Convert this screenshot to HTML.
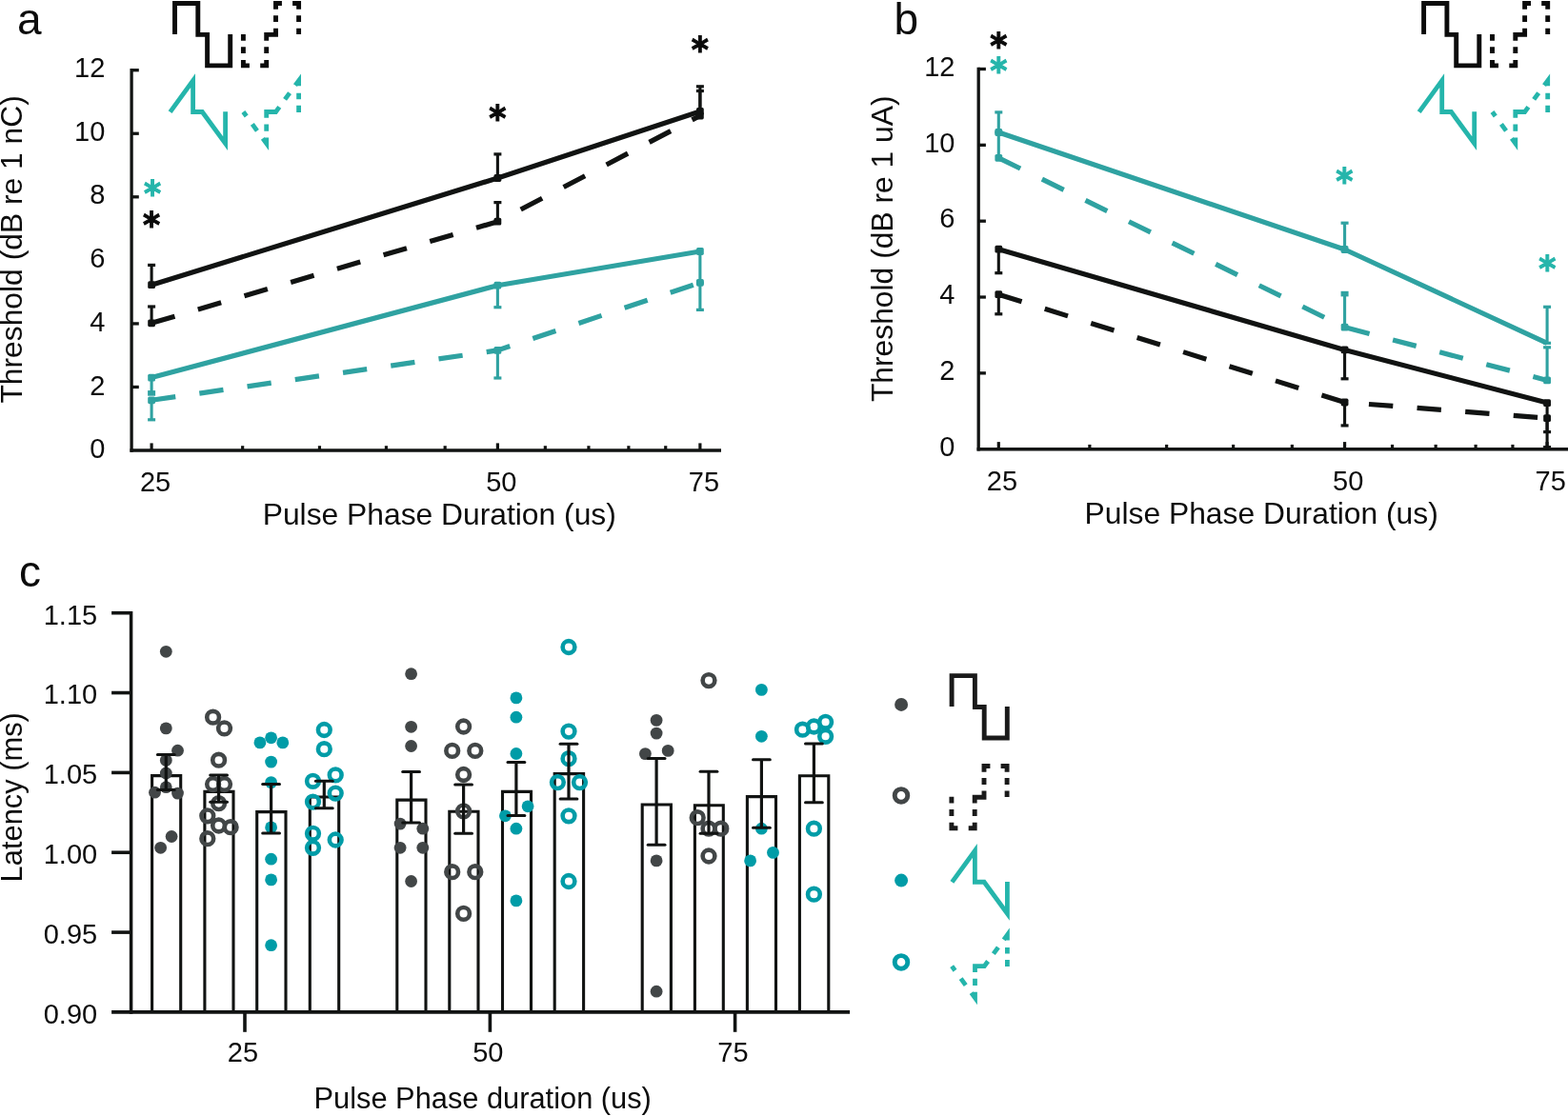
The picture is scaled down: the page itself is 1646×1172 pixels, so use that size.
<!DOCTYPE html>
<html lang="en"><head><meta charset="utf-8"><title>Figure</title>
<style>html,body{margin:0;padding:0;background:#fff}svg{display:block}</style></head><body>
<svg width="1646" height="1172" viewBox="0 0 1646 1172">
<rect width="1646" height="1172" fill="#fff"/>
<g id="panel-a">
<text x="17.9" y="36.4" font-family="'Liberation Sans', Arial, Helvetica, sans-serif" font-size="46" text-anchor="start" fill="#0c0c0c">a</text>
<line x1="138.1" y1="72.05" x2="138.1" y2="474.75" stroke="#111312" stroke-width="3.3" stroke-linecap="butt"/>
<line x1="136.45" y1="473" x2="757" y2="473" stroke="#111312" stroke-width="3.5" stroke-linecap="butt"/>
<line x1="138.1" y1="73.7" x2="145.8" y2="73.7" stroke="#111312" stroke-width="3.3" stroke-linecap="butt"/>
<line x1="138.1" y1="140.25" x2="145.8" y2="140.25" stroke="#111312" stroke-width="3.3" stroke-linecap="butt"/>
<line x1="138.1" y1="206.8" x2="145.8" y2="206.8" stroke="#111312" stroke-width="3.3" stroke-linecap="butt"/>
<line x1="138.1" y1="339.9" x2="145.8" y2="339.9" stroke="#111312" stroke-width="3.3" stroke-linecap="butt"/>
<line x1="138.1" y1="406.45" x2="145.8" y2="406.45" stroke="#111312" stroke-width="3.3" stroke-linecap="butt"/>
<line x1="159.1" y1="473" x2="159.1" y2="465.4" stroke="#111312" stroke-width="3.2" stroke-linecap="butt"/>
<line x1="522.38" y1="473" x2="522.38" y2="465.4" stroke="#111312" stroke-width="3.2" stroke-linecap="butt"/>
<line x1="734.89" y1="473" x2="734.89" y2="465.4" stroke="#111312" stroke-width="3.2" stroke-linecap="butt"/>
<line x1="254.66" y1="473" x2="254.66" y2="468.2" stroke="#111312" stroke-width="3.2" stroke-linecap="butt"/>
<line x1="335.45" y1="473" x2="335.45" y2="468.2" stroke="#111312" stroke-width="3.2" stroke-linecap="butt"/>
<line x1="405.43" y1="473" x2="405.43" y2="468.2" stroke="#111312" stroke-width="3.2" stroke-linecap="butt"/>
<line x1="467.16" y1="473" x2="467.16" y2="468.2" stroke="#111312" stroke-width="3.2" stroke-linecap="butt"/>
<line x1="572.34" y1="473" x2="572.34" y2="468.2" stroke="#111312" stroke-width="3.2" stroke-linecap="butt"/>
<line x1="617.94" y1="473" x2="617.94" y2="468.2" stroke="#111312" stroke-width="3.2" stroke-linecap="butt"/>
<line x1="659.89" y1="473" x2="659.89" y2="468.2" stroke="#111312" stroke-width="3.2" stroke-linecap="butt"/>
<line x1="698.73" y1="473" x2="698.73" y2="468.2" stroke="#111312" stroke-width="3.2" stroke-linecap="butt"/>
<text x="110.3" y="80.9" font-family="'Liberation Sans', Arial, Helvetica, sans-serif" font-size="29" text-anchor="end" fill="#0c0c0c">12</text>
<text x="110.3" y="147.62" font-family="'Liberation Sans', Arial, Helvetica, sans-serif" font-size="29" text-anchor="end" fill="#0c0c0c">10</text>
<text x="110.3" y="214.34" font-family="'Liberation Sans', Arial, Helvetica, sans-serif" font-size="29" text-anchor="end" fill="#0c0c0c">8</text>
<text x="110.3" y="281.06" font-family="'Liberation Sans', Arial, Helvetica, sans-serif" font-size="29" text-anchor="end" fill="#0c0c0c">6</text>
<text x="110.3" y="347.78" font-family="'Liberation Sans', Arial, Helvetica, sans-serif" font-size="29" text-anchor="end" fill="#0c0c0c">4</text>
<text x="110.3" y="414.5" font-family="'Liberation Sans', Arial, Helvetica, sans-serif" font-size="29" text-anchor="end" fill="#0c0c0c">2</text>
<text x="110.3" y="481.22" font-family="'Liberation Sans', Arial, Helvetica, sans-serif" font-size="29" text-anchor="end" fill="#0c0c0c">0</text>
<text x="163.1" y="515.7" font-family="'Liberation Sans', Arial, Helvetica, sans-serif" font-size="29" text-anchor="middle" fill="#0c0c0c">25</text>
<text x="526.38" y="515.7" font-family="'Liberation Sans', Arial, Helvetica, sans-serif" font-size="29" text-anchor="middle" fill="#0c0c0c">50</text>
<text x="738.89" y="515.7" font-family="'Liberation Sans', Arial, Helvetica, sans-serif" font-size="29" text-anchor="middle" fill="#0c0c0c">75</text>
<text x="275.7" y="550.8" font-family="'Liberation Sans', Arial, Helvetica, sans-serif" font-size="31.8" text-anchor="start" fill="#0c0c0c">Pulse Phase Duration (us)</text>
<text transform="translate(23.2 423.6) rotate(-90)" font-family="'Liberation Sans', Arial, Helvetica, sans-serif" font-size="31.8" text-anchor="start" fill="#0c0c0c">Threshold (dB re 1 nC)</text>
<path d="M183.5,35.9 V3.55 H207.8 V36.4 H217.6 V68.9 H241.7 V35.9" fill="none" stroke="#0b0b0b" stroke-width="4.9" stroke-linejoin="miter"/>
<path d="M255.4,35.9 V68.9 H279.7 V36.4 H289.5 V3.55 H313.6 V36.1" fill="none" stroke="#0b0b0b" stroke-width="4.9" stroke-linejoin="miter" stroke-dasharray="6.75 6.55 6.8 6.9 12.5 11.3 12.5 6.9 6.8 6.55 22.75 6.7 6.8 6.4 12.65 11.2 12.75 6.4 6.8 6.7 6.4 50"/>
<path d="M178.6,117.6 L202.6,84.7 V117.5 H212.3 L236.6,150.7 V117.2" fill="none" stroke="#25b5ab" stroke-width="4.8" stroke-linejoin="miter" stroke-miterlimit="10"/>
<path d="M255.4,117.5 L279.7,150.7 L279.7,117.5 L289.5,117.5 L313.6,84.7 L313.6,117.9" fill="none" stroke="#25b5ab" stroke-width="4.8" stroke-linejoin="miter" stroke-miterlimit="10" stroke-dasharray="5.6 10.4 8.6 10 12.64 6.8 7.2 6.8 22.5 9.8 8.4 9.9 11.8 7.4 6.6 6.5 7.1 100"/>
<path d="M159.1,420.3 L522.38,367.9 L734.89,296.8" fill="none" stroke="#2fa2a1" stroke-width="5.2" stroke-linejoin="round" stroke-dasharray="25.4 25.35"/>
<path d="M159.1,396.6 L522.38,299.7 L734.89,264" fill="none" stroke="#2fa2a1" stroke-width="5.2" stroke-linejoin="round"/>
<path d="M159.1,339.3 L522.38,232.7 L734.89,121.5" fill="none" stroke="#111312" stroke-width="5.2" stroke-linejoin="round" stroke-dasharray="25.4 25.35"/>
<path d="M159.1,299.2 L522.38,187 L734.89,117" fill="none" stroke="#111312" stroke-width="5.2" stroke-linejoin="round"/>
<line x1="159.1" y1="396.6" x2="159.1" y2="412.9" stroke="#2fa2a1" stroke-width="3.1" stroke-linecap="butt"/>
<rect x="155.1" y="410.1" width="8" height="5.6" fill="#2fa2a1"/>
<line x1="159.1" y1="420.3" x2="159.1" y2="440.8" stroke="#2fa2a1" stroke-width="3.1" stroke-linecap="butt"/>
<rect x="155.1" y="439.2" width="8" height="3.2" fill="#2fa2a1"/>
<line x1="159.1" y1="299.2" x2="159.1" y2="278.4" stroke="#111312" stroke-width="3.1" stroke-linecap="butt"/>
<rect x="155.1" y="276.8" width="8" height="3.2" fill="#111312"/>
<line x1="159.1" y1="339.3" x2="159.1" y2="322" stroke="#111312" stroke-width="3.1" stroke-linecap="butt"/>
<rect x="155.1" y="320.4" width="8" height="3.2" fill="#111312"/>
<rect x="155.2" y="392.7" width="7.8" height="7.8" rx="1.6" fill="#2fa2a1"/>
<rect x="155.2" y="416.4" width="7.8" height="7.8" rx="1.6" fill="#2fa2a1"/>
<rect x="155.2" y="295.3" width="7.8" height="7.8" rx="1.6" fill="#111312"/>
<rect x="155.2" y="335.4" width="7.8" height="7.8" rx="1.6" fill="#111312"/>
<line x1="522.38" y1="299.7" x2="522.38" y2="322.7" stroke="#2fa2a1" stroke-width="3.1" stroke-linecap="butt"/>
<rect x="518.38" y="321.1" width="8" height="3.2" fill="#2fa2a1"/>
<line x1="522.38" y1="367.9" x2="522.38" y2="397" stroke="#2fa2a1" stroke-width="3.1" stroke-linecap="butt"/>
<rect x="518.38" y="395.4" width="8" height="3.2" fill="#2fa2a1"/>
<line x1="522.38" y1="187" x2="522.38" y2="161.9" stroke="#111312" stroke-width="3.1" stroke-linecap="butt"/>
<rect x="518.38" y="160.3" width="8" height="3.2" fill="#111312"/>
<line x1="522.38" y1="232.7" x2="522.38" y2="212.6" stroke="#111312" stroke-width="3.1" stroke-linecap="butt"/>
<rect x="518.38" y="211" width="8" height="3.2" fill="#111312"/>
<rect x="518.48" y="295.8" width="7.8" height="7.8" rx="1.6" fill="#2fa2a1"/>
<rect x="518.48" y="364" width="7.8" height="7.8" rx="1.6" fill="#2fa2a1"/>
<rect x="518.48" y="183.1" width="7.8" height="7.8" rx="1.6" fill="#111312"/>
<rect x="518.48" y="228.8" width="7.8" height="7.8" rx="1.6" fill="#111312"/>
<line x1="734.89" y1="264" x2="734.89" y2="297" stroke="#2fa2a1" stroke-width="3.1" stroke-linecap="butt"/>
<rect x="730.89" y="295.4" width="8" height="3.2" fill="#2fa2a1"/>
<line x1="734.89" y1="296.8" x2="734.89" y2="325.4" stroke="#2fa2a1" stroke-width="3.1" stroke-linecap="butt"/>
<rect x="730.89" y="323.8" width="8" height="3.2" fill="#2fa2a1"/>
<line x1="734.89" y1="117" x2="734.89" y2="90.8" stroke="#111312" stroke-width="3.1" stroke-linecap="butt"/>
<rect x="730.89" y="89.2" width="8" height="3.2" fill="#111312"/>
<line x1="734.89" y1="121.5" x2="734.89" y2="95.5" stroke="#111312" stroke-width="3.1" stroke-linecap="butt"/>
<rect x="730.89" y="93.9" width="8" height="3.2" fill="#111312"/>
<rect x="730.99" y="260.1" width="7.8" height="7.8" rx="1.6" fill="#2fa2a1"/>
<rect x="730.99" y="292.9" width="7.8" height="7.8" rx="1.6" fill="#2fa2a1"/>
<rect x="730.99" y="113.1" width="7.8" height="7.8" rx="1.6" fill="#111312"/>
<rect x="730.99" y="117.6" width="7.8" height="7.8" rx="1.6" fill="#111312"/>
<text transform="translate(160 197.5) scale(0.965 1.05)" x="0" y="17.45" font-family="'DejaVu Sans', 'Liberation Sans', sans-serif" font-size="36" font-weight="bold" text-anchor="middle" fill="#25b5ab" stroke="#25b5ab" stroke-width="1" stroke-linejoin="miter">*</text>
<text transform="translate(159.1 230.6) scale(0.965 1.05)" x="0" y="17.45" font-family="'DejaVu Sans', 'Liberation Sans', sans-serif" font-size="36" font-weight="bold" text-anchor="middle" fill="#0a0a0a" stroke="#0a0a0a" stroke-width="1" stroke-linejoin="miter">*</text>
<text transform="translate(522.4 118.2) scale(0.965 1.05)" x="0" y="17.45" font-family="'DejaVu Sans', 'Liberation Sans', sans-serif" font-size="36" font-weight="bold" text-anchor="middle" fill="#0a0a0a" stroke="#0a0a0a" stroke-width="1" stroke-linejoin="miter">*</text>
<text transform="translate(734.9 46.9) scale(0.965 1.05)" x="0" y="17.45" font-family="'DejaVu Sans', 'Liberation Sans', sans-serif" font-size="36" font-weight="bold" text-anchor="middle" fill="#0a0a0a" stroke="#0a0a0a" stroke-width="1" stroke-linejoin="miter">*</text>
</g>
<g id="panel-b">
<text x="938.5" y="36.4" font-family="'Liberation Sans', Arial, Helvetica, sans-serif" font-size="46" text-anchor="start" fill="#0c0c0c">b</text>
<line x1="1027.2" y1="70.85" x2="1027.2" y2="473.45" stroke="#111312" stroke-width="3.3" stroke-linecap="butt"/>
<line x1="1025.55" y1="471.7" x2="1646" y2="471.7" stroke="#111312" stroke-width="3.5" stroke-linecap="butt"/>
<line x1="1027.2" y1="72.5" x2="1034.9" y2="72.5" stroke="#111312" stroke-width="3.3" stroke-linecap="butt"/>
<line x1="1027.2" y1="152.34" x2="1034.9" y2="152.34" stroke="#111312" stroke-width="3.3" stroke-linecap="butt"/>
<line x1="1027.2" y1="232.18" x2="1034.9" y2="232.18" stroke="#111312" stroke-width="3.3" stroke-linecap="butt"/>
<line x1="1027.2" y1="312.02" x2="1034.9" y2="312.02" stroke="#111312" stroke-width="3.3" stroke-linecap="butt"/>
<line x1="1027.2" y1="391.86" x2="1034.9" y2="391.86" stroke="#111312" stroke-width="3.3" stroke-linecap="butt"/>
<line x1="1048.3" y1="471.7" x2="1048.3" y2="464.1" stroke="#111312" stroke-width="3.2" stroke-linecap="butt"/>
<line x1="1411.58" y1="471.7" x2="1411.58" y2="464.1" stroke="#111312" stroke-width="3.2" stroke-linecap="butt"/>
<line x1="1624.09" y1="471.7" x2="1624.09" y2="464.1" stroke="#111312" stroke-width="3.2" stroke-linecap="butt"/>
<line x1="1143.86" y1="471.7" x2="1143.86" y2="466.9" stroke="#111312" stroke-width="3.2" stroke-linecap="butt"/>
<line x1="1224.65" y1="471.7" x2="1224.65" y2="466.9" stroke="#111312" stroke-width="3.2" stroke-linecap="butt"/>
<line x1="1294.63" y1="471.7" x2="1294.63" y2="466.9" stroke="#111312" stroke-width="3.2" stroke-linecap="butt"/>
<line x1="1356.36" y1="471.7" x2="1356.36" y2="466.9" stroke="#111312" stroke-width="3.2" stroke-linecap="butt"/>
<line x1="1461.54" y1="471.7" x2="1461.54" y2="466.9" stroke="#111312" stroke-width="3.2" stroke-linecap="butt"/>
<line x1="1507.14" y1="471.7" x2="1507.14" y2="466.9" stroke="#111312" stroke-width="3.2" stroke-linecap="butt"/>
<line x1="1549.09" y1="471.7" x2="1549.09" y2="466.9" stroke="#111312" stroke-width="3.2" stroke-linecap="butt"/>
<line x1="1587.93" y1="471.7" x2="1587.93" y2="466.9" stroke="#111312" stroke-width="3.2" stroke-linecap="butt"/>
<text x="1002.4" y="79.8" font-family="'Liberation Sans', Arial, Helvetica, sans-serif" font-size="29" text-anchor="end" fill="#0c0c0c">12</text>
<text x="1002.4" y="159.64" font-family="'Liberation Sans', Arial, Helvetica, sans-serif" font-size="29" text-anchor="end" fill="#0c0c0c">10</text>
<text x="1002.4" y="239.48" font-family="'Liberation Sans', Arial, Helvetica, sans-serif" font-size="29" text-anchor="end" fill="#0c0c0c">6</text>
<text x="1002.4" y="319.32" font-family="'Liberation Sans', Arial, Helvetica, sans-serif" font-size="29" text-anchor="end" fill="#0c0c0c">4</text>
<text x="1002.4" y="399.16" font-family="'Liberation Sans', Arial, Helvetica, sans-serif" font-size="29" text-anchor="end" fill="#0c0c0c">2</text>
<text x="1002.4" y="479" font-family="'Liberation Sans', Arial, Helvetica, sans-serif" font-size="29" text-anchor="end" fill="#0c0c0c">0</text>
<text x="1051.9" y="515.1" font-family="'Liberation Sans', Arial, Helvetica, sans-serif" font-size="29" text-anchor="middle" fill="#0c0c0c">25</text>
<text x="1415.18" y="515.1" font-family="'Liberation Sans', Arial, Helvetica, sans-serif" font-size="29" text-anchor="middle" fill="#0c0c0c">50</text>
<text x="1627.69" y="515.1" font-family="'Liberation Sans', Arial, Helvetica, sans-serif" font-size="29" text-anchor="middle" fill="#0c0c0c">75</text>
<text x="1138.6" y="550" font-family="'Liberation Sans', Arial, Helvetica, sans-serif" font-size="31.8" text-anchor="start" fill="#0c0c0c">Pulse Phase Duration (us)</text>
<text transform="translate(937.4 422.1) rotate(-90)" font-family="'Liberation Sans', Arial, Helvetica, sans-serif" font-size="31.8" text-anchor="start" fill="#0c0c0c">Threshold (dB re 1 uA)</text>
<path d="M1494.6,35.9 V3.55 H1518.9 V36.4 H1528.7 V68.9 H1552.8 V35.9" fill="none" stroke="#0b0b0b" stroke-width="4.9" stroke-linejoin="miter"/>
<path d="M1566.5,35.9 V68.9 H1590.8 V36.4 H1600.6 V3.55 H1624.7 V36.1" fill="none" stroke="#0b0b0b" stroke-width="4.9" stroke-linejoin="miter" stroke-dasharray="6.75 6.55 6.8 6.9 12.5 11.3 12.5 6.9 6.8 6.55 22.75 6.7 6.8 6.4 12.65 11.2 12.75 6.4 6.8 6.7 6.4 50"/>
<path d="M1489.7,117.6 L1513.7,84.7 V117.5 H1523.4 L1547.7,150.7 V117.2" fill="none" stroke="#25b5ab" stroke-width="4.8" stroke-linejoin="miter" stroke-miterlimit="10"/>
<path d="M1566.5,117.5 L1590.8,150.7 L1590.8,117.5 L1600.6,117.5 L1624.7,84.7 L1624.7,117.9" fill="none" stroke="#25b5ab" stroke-width="4.8" stroke-linejoin="miter" stroke-miterlimit="10" stroke-dasharray="5.6 10.4 8.6 10 12.64 6.8 7.2 6.8 22.5 9.8 8.4 9.9 11.8 7.4 6.6 6.5 7.1 100"/>
<path d="M1048.3,165.8 L1411.58,343.7 L1624.09,399.4" fill="none" stroke="#2fa2a1" stroke-width="5.2" stroke-linejoin="round" stroke-dasharray="25.4 25.35"/>
<path d="M1048.3,139 L1411.58,262 L1624.09,360.3" fill="none" stroke="#2fa2a1" stroke-width="5.2" stroke-linejoin="round"/>
<path d="M1048.3,309.2 L1411.58,422.5 L1624.09,439.1" fill="none" stroke="#111312" stroke-width="5.2" stroke-linejoin="round" stroke-dasharray="25.4 25.35"/>
<path d="M1048.3,261.7 L1411.58,367.4 L1624.09,423.1" fill="none" stroke="#111312" stroke-width="5.2" stroke-linejoin="round"/>
<line x1="1048.3" y1="139" x2="1048.3" y2="117.9" stroke="#2fa2a1" stroke-width="3.1" stroke-linecap="butt"/>
<rect x="1044.3" y="116.3" width="8" height="3.2" fill="#2fa2a1"/>
<line x1="1048.3" y1="165.8" x2="1048.3" y2="139" stroke="#2fa2a1" stroke-width="3.1" stroke-linecap="butt"/>
<rect x="1044.3" y="137.4" width="8" height="3.2" fill="#2fa2a1"/>
<line x1="1048.3" y1="261.7" x2="1048.3" y2="286.7" stroke="#111312" stroke-width="3.1" stroke-linecap="butt"/>
<rect x="1044.3" y="285.1" width="8" height="3.2" fill="#111312"/>
<line x1="1048.3" y1="309.2" x2="1048.3" y2="329.8" stroke="#111312" stroke-width="3.1" stroke-linecap="butt"/>
<rect x="1044.3" y="328.2" width="8" height="3.2" fill="#111312"/>
<rect x="1044.4" y="135.1" width="7.8" height="7.8" rx="1.6" fill="#2fa2a1"/>
<rect x="1044.4" y="161.9" width="7.8" height="7.8" rx="1.6" fill="#2fa2a1"/>
<rect x="1044.4" y="257.8" width="7.8" height="7.8" rx="1.6" fill="#111312"/>
<rect x="1044.4" y="305.3" width="7.8" height="7.8" rx="1.6" fill="#111312"/>
<line x1="1411.58" y1="262" x2="1411.58" y2="234.2" stroke="#2fa2a1" stroke-width="3.1" stroke-linecap="butt"/>
<rect x="1407.58" y="232.6" width="8" height="3.2" fill="#2fa2a1"/>
<line x1="1411.58" y1="343.7" x2="1411.58" y2="308.6" stroke="#2fa2a1" stroke-width="3.1" stroke-linecap="butt"/>
<rect x="1407.58" y="305.8" width="8" height="5.6" fill="#2fa2a1"/>
<line x1="1411.58" y1="367.4" x2="1411.58" y2="397.8" stroke="#111312" stroke-width="3.1" stroke-linecap="butt"/>
<rect x="1407.58" y="396.2" width="8" height="3.2" fill="#111312"/>
<line x1="1411.58" y1="422.5" x2="1411.58" y2="446.9" stroke="#111312" stroke-width="3.1" stroke-linecap="butt"/>
<rect x="1407.58" y="445.3" width="8" height="3.2" fill="#111312"/>
<rect x="1407.68" y="258.1" width="7.8" height="7.8" rx="1.6" fill="#2fa2a1"/>
<rect x="1407.68" y="339.8" width="7.8" height="7.8" rx="1.6" fill="#2fa2a1"/>
<rect x="1407.68" y="363.5" width="7.8" height="7.8" rx="1.6" fill="#111312"/>
<rect x="1407.68" y="418.6" width="7.8" height="7.8" rx="1.6" fill="#111312"/>
<line x1="1624.09" y1="360.3" x2="1624.09" y2="322.3" stroke="#2fa2a1" stroke-width="3.1" stroke-linecap="butt"/>
<rect x="1620.09" y="320.7" width="8" height="3.2" fill="#2fa2a1"/>
<line x1="1624.09" y1="399.4" x2="1624.09" y2="364.8" stroke="#2fa2a1" stroke-width="3.1" stroke-linecap="butt"/>
<rect x="1620.09" y="363.2" width="8" height="3.2" fill="#2fa2a1"/>
<line x1="1624.09" y1="423.1" x2="1624.09" y2="453.6" stroke="#111312" stroke-width="3.1" stroke-linecap="butt"/>
<rect x="1620.09" y="452" width="8" height="3.2" fill="#111312"/>
<line x1="1624.09" y1="439.1" x2="1624.09" y2="469.6" stroke="#111312" stroke-width="3.1" stroke-linecap="butt"/>
<rect x="1620.09" y="468" width="8" height="3.2" fill="#111312"/>
<rect x="1620.09" y="358.7" width="8" height="3.2" fill="#2fa2a1"/>
<rect x="1620.19" y="395.5" width="7.8" height="7.8" rx="1.6" fill="#2fa2a1"/>
<rect x="1620.19" y="419.2" width="7.8" height="7.8" rx="1.6" fill="#111312"/>
<rect x="1620.19" y="435.2" width="7.8" height="7.8" rx="1.6" fill="#111312"/>
<text transform="translate(1048.3 43) scale(0.965 1.05)" x="0" y="17.45" font-family="'DejaVu Sans', 'Liberation Sans', sans-serif" font-size="36" font-weight="bold" text-anchor="middle" fill="#0a0a0a" stroke="#0a0a0a" stroke-width="1" stroke-linejoin="miter">*</text>
<text transform="translate(1048.3 68.6) scale(0.965 1.05)" x="0" y="17.45" font-family="'DejaVu Sans', 'Liberation Sans', sans-serif" font-size="36" font-weight="bold" text-anchor="middle" fill="#25b5ab" stroke="#25b5ab" stroke-width="1" stroke-linejoin="miter">*</text>
<text transform="translate(1411.3 184.8) scale(0.965 1.05)" x="0" y="17.45" font-family="'DejaVu Sans', 'Liberation Sans', sans-serif" font-size="36" font-weight="bold" text-anchor="middle" fill="#25b5ab" stroke="#25b5ab" stroke-width="1" stroke-linejoin="miter">*</text>
<text transform="translate(1624.4 277.1) scale(0.965 1.05)" x="0" y="17.45" font-family="'DejaVu Sans', 'Liberation Sans', sans-serif" font-size="36" font-weight="bold" text-anchor="middle" fill="#25b5ab" stroke="#25b5ab" stroke-width="1" stroke-linejoin="miter">*</text>
</g>
<g id="panel-c">
<text x="20.1" y="615.6" font-family="'Liberation Sans', Arial, Helvetica, sans-serif" font-size="46" text-anchor="start" fill="#0c0c0c">c</text>
<path d="M159.6,1062.9 V814.6 H189.7 V1062.9" fill="none" stroke="#111312" stroke-width="3.1"/>
<path d="M214.9,1062.9 V831.4 H245 V1062.9" fill="none" stroke="#111312" stroke-width="3.1"/>
<path d="M269.7,1062.9 V852.6 H300 V1062.9" fill="none" stroke="#111312" stroke-width="3.1"/>
<path d="M325.3,1062.9 V837 H355.7 V1062.9" fill="none" stroke="#111312" stroke-width="3.1"/>
<path d="M416.8,1062.9 V840.1 H447 V1062.9" fill="none" stroke="#111312" stroke-width="3.1"/>
<path d="M471.8,1062.9 V852.3 H502 V1062.9" fill="none" stroke="#111312" stroke-width="3.1"/>
<path d="M527.5,1062.9 V831.4 H557.5 V1062.9" fill="none" stroke="#111312" stroke-width="3.1"/>
<path d="M582.2,1062.9 V812.6 H612.6 V1062.9" fill="none" stroke="#111312" stroke-width="3.1"/>
<path d="M674.2,1062.9 V845 H704.4 V1062.9" fill="none" stroke="#111312" stroke-width="3.1"/>
<path d="M729.4,1062.9 V845.7 H759.3 V1062.9" fill="none" stroke="#111312" stroke-width="3.1"/>
<path d="M784.4,1062.9 V836.6 H814.5 V1062.9" fill="none" stroke="#111312" stroke-width="3.1"/>
<path d="M839.4,1062.9 V814.8 H869.8 V1062.9" fill="none" stroke="#111312" stroke-width="3.1"/>
<circle cx="174.3" cy="684.3" r="6.4" fill="#424647"/>
<circle cx="174.3" cy="764.9" r="6.4" fill="#424647"/>
<circle cx="186.5" cy="788.2" r="6.4" fill="#424647"/>
<circle cx="174.3" cy="798.4" r="6.4" fill="#424647"/>
<circle cx="174.3" cy="812" r="6.4" fill="#424647"/>
<circle cx="174.3" cy="826.7" r="6.4" fill="#424647"/>
<circle cx="162.5" cy="832.2" r="6.4" fill="#424647"/>
<circle cx="186.5" cy="833.1" r="6.4" fill="#424647"/>
<circle cx="180.1" cy="878.5" r="6.4" fill="#424647"/>
<circle cx="168.6" cy="890.3" r="6.4" fill="#424647"/>
<circle cx="223.6" cy="753.2" r="6.35" fill="none" stroke="#424647" stroke-width="4.6"/>
<circle cx="235.5" cy="764.9" r="6.35" fill="none" stroke="#424647" stroke-width="4.6"/>
<circle cx="229.6" cy="798.2" r="6.35" fill="none" stroke="#424647" stroke-width="4.6"/>
<circle cx="223.6" cy="823.5" r="6.35" fill="none" stroke="#424647" stroke-width="4.6"/>
<circle cx="235.5" cy="823.5" r="6.35" fill="none" stroke="#424647" stroke-width="4.6"/>
<circle cx="229.6" cy="843.6" r="6.35" fill="none" stroke="#424647" stroke-width="4.6"/>
<circle cx="217.8" cy="856.8" r="6.35" fill="none" stroke="#424647" stroke-width="4.6"/>
<circle cx="229.6" cy="867" r="6.35" fill="none" stroke="#424647" stroke-width="4.6"/>
<circle cx="242.1" cy="868.7" r="6.35" fill="none" stroke="#424647" stroke-width="4.6"/>
<circle cx="217.8" cy="880.7" r="6.35" fill="none" stroke="#424647" stroke-width="4.6"/>
<circle cx="284.6" cy="774.8" r="6.4" fill="#009ca7"/>
<circle cx="272.9" cy="779.9" r="6.4" fill="#009ca7"/>
<circle cx="296.8" cy="779.9" r="6.4" fill="#009ca7"/>
<circle cx="284.6" cy="800.1" r="6.4" fill="#009ca7"/>
<circle cx="284.6" cy="821.6" r="6.4" fill="#009ca7"/>
<circle cx="284.6" cy="868.9" r="6.4" fill="#009ca7"/>
<circle cx="284.6" cy="902.2" r="6.4" fill="#009ca7"/>
<circle cx="284.6" cy="923.9" r="6.4" fill="#009ca7"/>
<circle cx="284.6" cy="992.7" r="6.4" fill="#009ca7"/>
<circle cx="340.3" cy="766.5" r="6.35" fill="none" stroke="#009ca7" stroke-width="4.6"/>
<circle cx="340.3" cy="786.7" r="6.35" fill="none" stroke="#009ca7" stroke-width="4.6"/>
<circle cx="352.2" cy="813.9" r="6.35" fill="none" stroke="#009ca7" stroke-width="4.6"/>
<circle cx="328.5" cy="820.3" r="6.35" fill="none" stroke="#009ca7" stroke-width="4.6"/>
<circle cx="352.2" cy="833.1" r="6.35" fill="none" stroke="#009ca7" stroke-width="4.6"/>
<circle cx="328.5" cy="842.1" r="6.35" fill="none" stroke="#009ca7" stroke-width="4.6"/>
<circle cx="328.5" cy="875.3" r="6.35" fill="none" stroke="#009ca7" stroke-width="4.6"/>
<circle cx="352.2" cy="882" r="6.35" fill="none" stroke="#009ca7" stroke-width="4.6"/>
<circle cx="328.5" cy="890.3" r="6.35" fill="none" stroke="#009ca7" stroke-width="4.6"/>
<circle cx="431.6" cy="707.7" r="6.4" fill="#424647"/>
<circle cx="431.6" cy="763.3" r="6.4" fill="#424647"/>
<circle cx="431.6" cy="783.5" r="6.4" fill="#424647"/>
<circle cx="420.1" cy="865.1" r="6.4" fill="#424647"/>
<circle cx="443.8" cy="870.2" r="6.4" fill="#424647"/>
<circle cx="420.1" cy="890.3" r="6.4" fill="#424647"/>
<circle cx="443.8" cy="890.3" r="6.4" fill="#424647"/>
<circle cx="431.6" cy="925.5" r="6.4" fill="#424647"/>
<circle cx="486.6" cy="763" r="6.35" fill="none" stroke="#424647" stroke-width="4.6"/>
<circle cx="474.7" cy="788.4" r="6.35" fill="none" stroke="#424647" stroke-width="4.6"/>
<circle cx="498.8" cy="788.4" r="6.35" fill="none" stroke="#424647" stroke-width="4.6"/>
<circle cx="486.6" cy="813.5" r="6.35" fill="none" stroke="#424647" stroke-width="4.6"/>
<circle cx="486.6" cy="851.9" r="6.35" fill="none" stroke="#424647" stroke-width="4.6"/>
<circle cx="474.7" cy="915.7" r="6.35" fill="none" stroke="#424647" stroke-width="4.6"/>
<circle cx="498.8" cy="915.7" r="6.35" fill="none" stroke="#424647" stroke-width="4.6"/>
<circle cx="486.6" cy="959.4" r="6.35" fill="none" stroke="#424647" stroke-width="4.6"/>
<circle cx="541.9" cy="732.9" r="6.4" fill="#009ca7"/>
<circle cx="541.9" cy="753.2" r="6.4" fill="#009ca7"/>
<circle cx="541.9" cy="791.5" r="6.4" fill="#009ca7"/>
<circle cx="554.1" cy="846.8" r="6.4" fill="#009ca7"/>
<circle cx="530.4" cy="856.8" r="6.4" fill="#009ca7"/>
<circle cx="541.9" cy="870.2" r="6.4" fill="#009ca7"/>
<circle cx="541.9" cy="945.9" r="6.4" fill="#009ca7"/>
<circle cx="597" cy="679.5" r="6.35" fill="none" stroke="#009ca7" stroke-width="4.6"/>
<circle cx="597" cy="768.1" r="6.35" fill="none" stroke="#009ca7" stroke-width="4.6"/>
<circle cx="597" cy="796.7" r="6.35" fill="none" stroke="#009ca7" stroke-width="4.6"/>
<circle cx="585.4" cy="821.6" r="6.35" fill="none" stroke="#009ca7" stroke-width="4.6"/>
<circle cx="608.5" cy="821.6" r="6.35" fill="none" stroke="#009ca7" stroke-width="4.6"/>
<circle cx="597" cy="856.8" r="6.35" fill="none" stroke="#009ca7" stroke-width="4.6"/>
<circle cx="597" cy="925.5" r="6.35" fill="none" stroke="#009ca7" stroke-width="4.6"/>
<circle cx="689.1" cy="756.4" r="6.4" fill="#424647"/>
<circle cx="689.1" cy="770.1" r="6.4" fill="#424647"/>
<circle cx="701.2" cy="788.4" r="6.4" fill="#424647"/>
<circle cx="677.4" cy="791.6" r="6.4" fill="#424647"/>
<circle cx="689.1" cy="903.9" r="6.4" fill="#424647"/>
<circle cx="689.1" cy="1041.2" r="6.4" fill="#424647"/>
<circle cx="744" cy="714.6" r="6.35" fill="none" stroke="#424647" stroke-width="4.6"/>
<circle cx="732.2" cy="858.7" r="6.35" fill="none" stroke="#424647" stroke-width="4.6"/>
<circle cx="744" cy="870.2" r="6.35" fill="none" stroke="#424647" stroke-width="4.6"/>
<circle cx="756.8" cy="870.2" r="6.35" fill="none" stroke="#424647" stroke-width="4.6"/>
<circle cx="744" cy="899" r="6.35" fill="none" stroke="#424647" stroke-width="4.6"/>
<circle cx="799.4" cy="724.4" r="6.4" fill="#009ca7"/>
<circle cx="799.4" cy="773.3" r="6.4" fill="#009ca7"/>
<circle cx="799.4" cy="870.2" r="6.4" fill="#009ca7"/>
<circle cx="811.5" cy="895.4" r="6.4" fill="#009ca7"/>
<circle cx="787.6" cy="903.9" r="6.4" fill="#009ca7"/>
<circle cx="866.6" cy="758.3" r="6.35" fill="none" stroke="#009ca7" stroke-width="4.6"/>
<circle cx="854.4" cy="763" r="6.35" fill="none" stroke="#009ca7" stroke-width="4.6"/>
<circle cx="842.5" cy="766.2" r="6.35" fill="none" stroke="#009ca7" stroke-width="4.6"/>
<circle cx="866.6" cy="773.3" r="6.35" fill="none" stroke="#009ca7" stroke-width="4.6"/>
<circle cx="854.4" cy="870.2" r="6.35" fill="none" stroke="#009ca7" stroke-width="4.6"/>
<circle cx="854.4" cy="939.2" r="6.35" fill="none" stroke="#009ca7" stroke-width="4.6"/>
<line x1="174.3" y1="792.4" x2="174.3" y2="829.5" stroke="#111312" stroke-width="3.2" stroke-linecap="butt"/>
<line x1="165.4" y1="792.4" x2="183.2" y2="792.4" stroke="#111312" stroke-width="3" stroke-linecap="round"/>
<line x1="165.4" y1="829.5" x2="183.2" y2="829.5" stroke="#111312" stroke-width="3" stroke-linecap="round"/>
<line x1="229.6" y1="813.9" x2="229.6" y2="842.3" stroke="#111312" stroke-width="3.2" stroke-linecap="butt"/>
<line x1="220.7" y1="813.9" x2="238.5" y2="813.9" stroke="#111312" stroke-width="3" stroke-linecap="round"/>
<line x1="220.7" y1="842.3" x2="238.5" y2="842.3" stroke="#111312" stroke-width="3" stroke-linecap="round"/>
<line x1="284.6" y1="823.5" x2="284.6" y2="875" stroke="#111312" stroke-width="3.2" stroke-linecap="butt"/>
<line x1="275.7" y1="823.5" x2="293.5" y2="823.5" stroke="#111312" stroke-width="3" stroke-linecap="round"/>
<line x1="275.7" y1="875" x2="293.5" y2="875" stroke="#111312" stroke-width="3" stroke-linecap="round"/>
<line x1="340.3" y1="820.3" x2="340.3" y2="848.7" stroke="#111312" stroke-width="3.2" stroke-linecap="butt"/>
<line x1="331.4" y1="820.3" x2="349.2" y2="820.3" stroke="#111312" stroke-width="3" stroke-linecap="round"/>
<line x1="331.4" y1="848.7" x2="349.2" y2="848.7" stroke="#111312" stroke-width="3" stroke-linecap="round"/>
<line x1="431.6" y1="810.5" x2="431.6" y2="864.1" stroke="#111312" stroke-width="3.2" stroke-linecap="butt"/>
<line x1="422.7" y1="810.5" x2="440.5" y2="810.5" stroke="#111312" stroke-width="3" stroke-linecap="round"/>
<line x1="422.7" y1="864.1" x2="440.5" y2="864.1" stroke="#111312" stroke-width="3" stroke-linecap="round"/>
<line x1="486.6" y1="823.9" x2="486.6" y2="875.3" stroke="#111312" stroke-width="3.2" stroke-linecap="butt"/>
<line x1="477.7" y1="823.9" x2="495.5" y2="823.9" stroke="#111312" stroke-width="3" stroke-linecap="round"/>
<line x1="477.7" y1="875.3" x2="495.5" y2="875.3" stroke="#111312" stroke-width="3" stroke-linecap="round"/>
<line x1="541.9" y1="800.5" x2="541.9" y2="856.4" stroke="#111312" stroke-width="3.2" stroke-linecap="butt"/>
<line x1="533" y1="800.5" x2="550.8" y2="800.5" stroke="#111312" stroke-width="3" stroke-linecap="round"/>
<line x1="533" y1="856.4" x2="550.8" y2="856.4" stroke="#111312" stroke-width="3" stroke-linecap="round"/>
<line x1="597" y1="781.3" x2="597" y2="838.9" stroke="#111312" stroke-width="3.2" stroke-linecap="butt"/>
<line x1="588.1" y1="781.3" x2="605.9" y2="781.3" stroke="#111312" stroke-width="3" stroke-linecap="round"/>
<line x1="588.1" y1="838.9" x2="605.9" y2="838.9" stroke="#111312" stroke-width="3" stroke-linecap="round"/>
<line x1="689.1" y1="796.4" x2="689.1" y2="887.2" stroke="#111312" stroke-width="3.2" stroke-linecap="butt"/>
<line x1="680.2" y1="796.4" x2="698" y2="796.4" stroke="#111312" stroke-width="3" stroke-linecap="round"/>
<line x1="680.2" y1="887.2" x2="698" y2="887.2" stroke="#111312" stroke-width="3" stroke-linecap="round"/>
<line x1="744" y1="810.3" x2="744" y2="875.3" stroke="#111312" stroke-width="3.2" stroke-linecap="butt"/>
<line x1="735.1" y1="810.3" x2="752.9" y2="810.3" stroke="#111312" stroke-width="3" stroke-linecap="round"/>
<line x1="735.1" y1="875.3" x2="752.9" y2="875.3" stroke="#111312" stroke-width="3" stroke-linecap="round"/>
<line x1="799.4" y1="797.7" x2="799.4" y2="869.2" stroke="#111312" stroke-width="3.2" stroke-linecap="butt"/>
<line x1="790.5" y1="797.7" x2="808.3" y2="797.7" stroke="#111312" stroke-width="3" stroke-linecap="round"/>
<line x1="790.5" y1="869.2" x2="808.3" y2="869.2" stroke="#111312" stroke-width="3" stroke-linecap="round"/>
<line x1="854.4" y1="780.9" x2="854.4" y2="842.7" stroke="#111312" stroke-width="3.2" stroke-linecap="butt"/>
<line x1="845.5" y1="780.9" x2="863.3" y2="780.9" stroke="#111312" stroke-width="3" stroke-linecap="round"/>
<line x1="845.5" y1="842.7" x2="863.3" y2="842.7" stroke="#111312" stroke-width="3" stroke-linecap="round"/>
<line x1="137.6" y1="641.9" x2="137.6" y2="1064.7" stroke="#111312" stroke-width="3.5" stroke-linecap="butt"/>
<line x1="117.1" y1="1062.9" x2="892.1" y2="1062.9" stroke="#111312" stroke-width="3.6" stroke-linecap="butt"/>
<line x1="117.1" y1="643.7" x2="137.6" y2="643.7" stroke="#111312" stroke-width="3.6" stroke-linecap="butt"/>
<line x1="117.1" y1="727.55" x2="137.6" y2="727.55" stroke="#111312" stroke-width="3.6" stroke-linecap="butt"/>
<line x1="117.1" y1="811.4" x2="137.6" y2="811.4" stroke="#111312" stroke-width="3.6" stroke-linecap="butt"/>
<line x1="117.1" y1="895.25" x2="137.6" y2="895.25" stroke="#111312" stroke-width="3.6" stroke-linecap="butt"/>
<line x1="117.1" y1="979.1" x2="137.6" y2="979.1" stroke="#111312" stroke-width="3.6" stroke-linecap="butt"/>
<line x1="257" y1="1062.9" x2="257" y2="1083.8" stroke="#111312" stroke-width="3.6" stroke-linecap="butt"/>
<line x1="514.4" y1="1062.9" x2="514.4" y2="1083.8" stroke="#111312" stroke-width="3.6" stroke-linecap="butt"/>
<line x1="771.6" y1="1062.9" x2="771.6" y2="1083.8" stroke="#111312" stroke-width="3.6" stroke-linecap="butt"/>
<text x="102.2" y="655.5" font-family="'Liberation Sans', Arial, Helvetica, sans-serif" font-size="29" text-anchor="end" fill="#0c0c0c">1.15</text>
<text x="102.2" y="739.35" font-family="'Liberation Sans', Arial, Helvetica, sans-serif" font-size="29" text-anchor="end" fill="#0c0c0c">1.10</text>
<text x="102.2" y="823.2" font-family="'Liberation Sans', Arial, Helvetica, sans-serif" font-size="29" text-anchor="end" fill="#0c0c0c">1.05</text>
<text x="102.2" y="907.05" font-family="'Liberation Sans', Arial, Helvetica, sans-serif" font-size="29" text-anchor="end" fill="#0c0c0c">1.00</text>
<text x="102.2" y="990.9" font-family="'Liberation Sans', Arial, Helvetica, sans-serif" font-size="29" text-anchor="end" fill="#0c0c0c">0.95</text>
<text x="102.2" y="1074.75" font-family="'Liberation Sans', Arial, Helvetica, sans-serif" font-size="29" text-anchor="end" fill="#0c0c0c">0.90</text>
<text x="254.9" y="1114.9" font-family="'Liberation Sans', Arial, Helvetica, sans-serif" font-size="29" text-anchor="middle" fill="#0c0c0c">25</text>
<text x="512.3" y="1114.9" font-family="'Liberation Sans', Arial, Helvetica, sans-serif" font-size="29" text-anchor="middle" fill="#0c0c0c">50</text>
<text x="769.5" y="1114.9" font-family="'Liberation Sans', Arial, Helvetica, sans-serif" font-size="29" text-anchor="middle" fill="#0c0c0c">75</text>
<text x="329.5" y="1164.4" font-family="'Liberation Sans', Arial, Helvetica, sans-serif" font-size="30.8" text-anchor="start" fill="#0c0c0c">Pulse Phase duration (us)</text>
<text transform="translate(23 926.4) rotate(-90)" font-family="'Liberation Sans', Arial, Helvetica, sans-serif" font-size="30.85" text-anchor="start" fill="#0c0c0c">Latency (ms)</text>
<circle cx="946.1" cy="739.9" r="6.98" fill="#424647"/>
<circle cx="946" cy="835.4" r="6.79" fill="none" stroke="#424647" stroke-width="4.92"/>
<circle cx="946.1" cy="924.6" r="6.98" fill="#009ca7"/>
<circle cx="946" cy="1010.4" r="6.79" fill="none" stroke="#009ca7" stroke-width="4.92"/>
<path d="M999.1,741.95 V709.6 H1023.4 V742.45 H1033.2 V774.95 H1057.3 V741.95" fill="none" stroke="#1a1a1a" stroke-width="4.9" stroke-linejoin="miter"/>
<path d="M998.9,836.8 V869.8 H1023.2 V837.3 H1033 V804.45 H1057.1 V837" fill="none" stroke="#1a1a1a" stroke-width="4.9" stroke-linejoin="miter" stroke-dasharray="6.75 6.55 6.8 6.9 12.5 11.3 12.5 6.9 6.8 6.55 22.75 6.7 6.8 6.4 12.65 11.2 12.75 6.4 6.8 6.7 6.4 50"/>
<path d="M999.4,926.35 L1023.4,893.45 V926.25 H1033.1 L1057.4,959.45 V925.95" fill="none" stroke="#25b5ab" stroke-width="4.8" stroke-linejoin="miter" stroke-miterlimit="10"/>
<path d="M999.2,1014.7 L1023.5,1047.9 L1023.5,1014.7 L1033.3,1014.7 L1057.4,981.9 L1057.4,1015.1" fill="none" stroke="#25b5ab" stroke-width="4.8" stroke-linejoin="miter" stroke-miterlimit="10" stroke-dasharray="5.6 10.4 8.6 10 12.64 6.8 7.2 6.8 22.5 9.8 8.4 9.9 11.8 7.4 6.6 6.5 7.1 100"/>
</g>
</svg></body></html>
